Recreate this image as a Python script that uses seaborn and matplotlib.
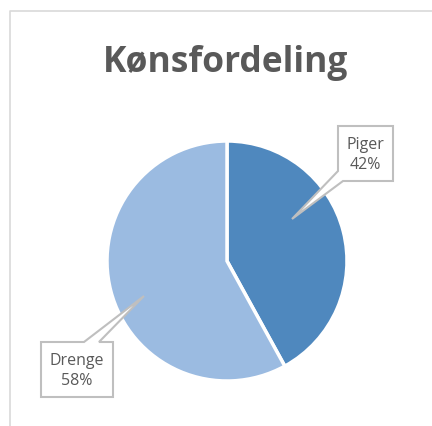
import matplotlib
matplotlib.use("Agg")
import matplotlib.pyplot as plt
import seaborn as sns
from matplotlib.patches import Polygon
from matplotlib.lines import Line2D

labels = ["Piger", "Drenge"]
shares = [42, 58]
colors = ["#4F88BE", "#9BBBE1"]
title = "Kønsfordeling"

sns.set_style("white")
plt.rcParams["font.family"] = ["Open Sans", "DejaVu Sans"]

W, H = 432, 427
cx, cy, R = 227, 262, 120  # pie centre and radius in pixels (from top-left)

fig = plt.figure(figsize=(W / 100, H / 100), dpi=100)
ax = fig.add_axes([0, 0, 1, 1])
ax.pie(shares, colors=colors, startangle=90, counterclock=False,
       wedgeprops=dict(edgecolor="white", linewidth=2.5))
ax.set_xlim(-cx / R, (W - cx) / R)
ax.set_ylim(-(H - cy) / R, cy / R)
ax.set_aspect("auto")
ax.axis("off")


def px(x, y):
    # pixel (top-left origin) -> data units of the pie axes
    return ((x - cx) / R, (cy - y) / R)


# chart frame (only top and left edges visible in the crop)
fig.add_artist(Line2D([9.5 / W, 9.5 / W, 1], [0, 1 - 12 / H, 1 - 12 / H],
                      color="#D9D9D9", lw=1.2, transform=fig.transFigure))

# callouts
callouts = {
    "Piger": dict(poly=[(338, 127), (393, 127), (393, 182), (343, 182),
                        (292, 220), (338, 172)],
                  text=(365.5, 155)),
    "Drenge": dict(poly=[(41, 343), (84, 343), (144, 297), (99, 343),
                         (113, 343), (113, 398), (41, 398)],
                   text=(77, 371)),
}
for lab, val in zip(labels, shares):
    c = callouts[lab]
    ax.add_patch(Polygon([px(*p) for p in c["poly"]], closed=True,
                         facecolor="white", edgecolor="#BFBFBF", lw=1.5,
                         zorder=5))
    tx, ty = px(*c["text"])
    ax.text(tx, ty, f"{lab}\n{val}%", ha="center", va="center",
            fontsize=11.5, color="#595959", linespacing=1.4, zorder=6)

fig.text(226 / W, 1 - 72 / H, title, ha="center", va="baseline",
         fontsize=25.5, fontweight="bold", color="#595959")

fig.savefig("out.png", dpi=100, facecolor="white")
